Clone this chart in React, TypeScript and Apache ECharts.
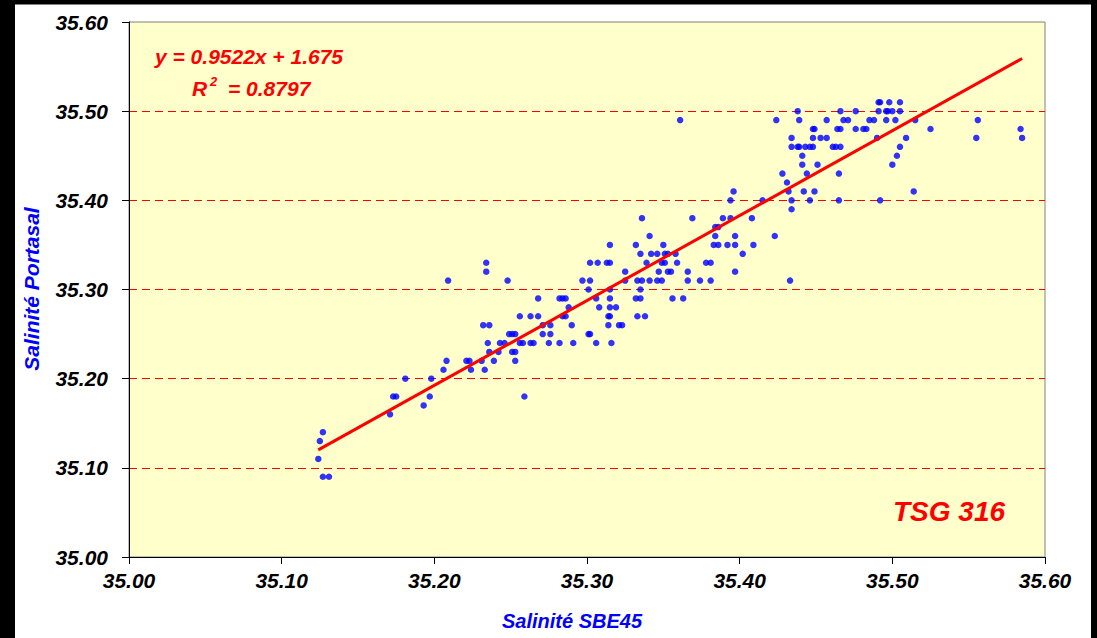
import React, { useEffect, useRef } from "react";
import * as echarts from "echarts";

// Salinité Portasal levels (y) and the SBE45 salinities (x) read at each level
const portasalLevels = [
  35.09, 35.11, 35.13, 35.14, 35.16, 35.17, 35.18, 35.2, 35.21, 35.22, 35.23, 35.24, 35.25, 35.26,
  35.27, 35.28, 35.29, 35.3, 35.31, 35.32, 35.33, 35.34, 35.35, 35.36, 35.37, 35.38, 35.39, 35.4,
  35.41, 35.42, 35.43, 35.44, 35.45, 35.46, 35.47, 35.48, 35.49, 35.5, 35.51,
];
const sbe45ByLevel = [
  [35.127, 35.131],
  [35.124],
  [35.125],
  [35.127],
  [35.171],
  [35.193],
  [35.173, 35.175, 35.197, 35.259],
  [35.181, 35.198],
  [35.206, 35.224, 35.233],
  [35.208, 35.221, 35.223, 35.231, 35.239, 35.253],
  [35.236, 35.242, 35.251, 35.253],
  [35.235, 35.243, 35.246, 35.256, 35.258, 35.263, 35.265, 35.275, 35.282, 35.291, 35.306, 35.316],
  [35.249, 35.251, 35.253, 35.271, 35.276, 35.301, 35.302],
  [35.232, 35.236, 35.271, 35.276, 35.29, 35.314, 35.321, 35.323],
  [35.256, 35.263, 35.268, 35.284, 35.286, 35.314, 35.315, 35.333, 35.338],
  [35.288, 35.308, 35.315, 35.319],
  [35.268, 35.282, 35.284, 35.286, 35.306, 35.315, 35.332, 35.335, 35.356, 35.363],
  [35.301, 35.315, 35.335],
  [35.209, 35.248, 35.297, 35.302, 35.325, 35.333, 35.336, 35.341, 35.346, 35.349, 35.366, 35.374, 35.381, 35.433],
  [35.234, 35.325, 35.347, 35.353, 35.355, 35.366, 35.397],
  [35.234, 35.302, 35.307, 35.313, 35.315, 35.339, 35.349, 35.351, 35.359, 35.378, 35.381],
  [35.335, 35.342, 35.346, 35.351, 35.353, 35.358, 35.402],
  [35.315, 35.332, 35.35, 35.383, 35.386, 35.392, 35.397, 35.409],
  [35.341, 35.384, 35.397, 35.423],
  [35.384, 35.386],
  [35.336, 35.369, 35.389, 35.394, 35.408],
  [35.434],
  [35.394, 35.415, 35.434, 35.446, 35.465, 35.492],
  [35.396, 35.432, 35.442, 35.449, 35.514],
  [35.431],
  [35.428, 35.444, 35.465],
  [35.441, 35.451, 35.5],
  [35.441, 35.503],
  [35.434, 35.438, 35.439, 35.443, 35.446, 35.448, 35.461, 35.463, 35.466, 35.505],
  [35.434, 35.448, 35.453, 35.457, 35.49, 35.509, 35.555, 35.585],
  [35.448, 35.449, 35.464, 35.466, 35.476, 35.481, 35.483, 35.525, 35.584],
  [35.361, 35.424, 35.439, 35.457, 35.468, 35.471, 35.485, 35.488, 35.496, 35.502, 35.515, 35.556],
  [35.438, 35.466, 35.476, 35.491, 35.496, 35.497, 35.5, 35.505],
  [35.491, 35.492, 35.498, 35.505],
];

// Linear trendline shown on the chart
const trendSlope = 0.9522;
const trendIntercept = 1.675;
const trendXRange = [35.124, 35.585];
const r2Value = "0.8797";

const axisMin = 35.0;
const axisMax = 35.6;
const axisStep = 0.1;

const FONT = "'Liberation Sans', Arial, sans-serif";

export default function App() {
  const ref = useRef<HTMLDivElement>(null);

  useEffect(() => {
    if (!ref.current) return;
    const chart = echarts.init(ref.current, null, { renderer: "svg" });

    const points: number[][] = [];
    portasalLevels.forEach((y, i) => {
      sbe45ByLevel[i].forEach((x) => points.push([x, y]));
    });
    const trend = trendXRange.map((x) => [x, trendSlope * x + trendIntercept]);

    const labelStyle = {
      color: "#000",
      fontFamily: FONT,
      fontSize: 21,
      fontWeight: "bold" as const,
      fontStyle: "italic" as const,
      formatter: (v: number) => v.toFixed(2),
    };

    const textFont = (size: number) => ({
      fontFamily: FONT,
      fontSize: size,
      fontWeight: "bold",
      fontStyle: "italic",
    });

    chart.setOption({
      animation: false,
      backgroundColor: "transparent",
      grid: {
        left: 129,
        right: 52,
        top: 22,
        bottom: 81,
        show: true,
        backgroundColor: "#FFFFCC",
        borderColor: "#808080",
        borderWidth: 1,
      },
      xAxis: {
        type: "value",
        min: axisMin,
        max: axisMax,
        interval: axisStep,
        axisLine: { show: true, onZero: false, lineStyle: { color: "#000", width: 1 } },
        axisTick: { show: true, inside: false, length: 7, lineStyle: { color: "#000" } },
        axisLabel: { ...labelStyle, margin: 13 },
        splitLine: { show: false },
      },
      yAxis: {
        type: "value",
        min: axisMin,
        max: axisMax,
        interval: axisStep,
        axisLine: { show: true, onZero: false, lineStyle: { color: "#000", width: 1 } },
        axisTick: { show: true, inside: false, length: 7, lineStyle: { color: "#000" } },
        axisLabel: { ...labelStyle, margin: 21 },
        splitLine: {
          show: true,
          lineStyle: {
            color: [
              "rgba(0,0,0,0)",
              "#FF0000",
              "#FF0000",
              "#FF0000",
              "#FF0000",
              "#FF0000",
              "rgba(0,0,0,0)",
            ],
            width: 1,
            type: [8, 5],
          },
        },
      },
      series: [
        {
          type: "scatter",
          data: points,
          symbol: "circle",
          symbolSize: 6.5,
          itemStyle: { color: "#0000FF" },
          z: 3,
        },
        {
          type: "line",
          data: trend,
          showSymbol: false,
          symbol: "none",
          lineStyle: { color: "#FF0000", width: 3 },
          z: 4,
        },
      ],
      graphic: [
        {
          type: "text",
          x: 31,
          y: 289,
          rotation: Math.PI / 2,
          style: {
            text: "Salinité Portasal",
            fill: "#0000FF",
            align: "center",
            verticalAlign: "middle",
            ...textFont(21),
          },
        },
        {
          type: "text",
          x: 572,
          y: 621,
          style: {
            text: "Salinité SBE45",
            fill: "#0000FF",
            align: "center",
            verticalAlign: "middle",
            ...textFont(20),
          },
        },
        {
          type: "text",
          x: 155,
          y: 56,
          style: {
            text: `y = ${trendSlope}x + ${trendIntercept}`,
            fill: "#FF0000",
            align: "left",
            verticalAlign: "middle",
            ...textFont(21),
          },
        },
        {
          type: "text",
          x: 192,
          y: 88,
          style: {
            text: "R",
            fill: "#FF0000",
            align: "left",
            verticalAlign: "middle",
            ...textFont(21),
          },
        },
        {
          type: "text",
          x: 210,
          y: 81,
          style: {
            text: "2",
            fill: "#FF0000",
            align: "left",
            verticalAlign: "middle",
            ...textFont(13),
          },
        },
        {
          type: "text",
          x: 228,
          y: 88,
          style: {
            text: `= ${r2Value}`,
            fill: "#FF0000",
            align: "left",
            verticalAlign: "middle",
            ...textFont(21),
          },
        },
        {
          type: "text",
          x: 893,
          y: 511,
          style: {
            text: "TSG 316",
            fill: "#FF0000",
            align: "left",
            verticalAlign: "middle",
            ...textFont(28),
          },
        },
      ],
    });

    return () => chart.dispose();
  }, []);

  return (
    <div
      style={{
        position: "fixed",
        left: 0,
        top: 0,
        width: 1097,
        height: 638,
        background: "#000",
        overflow: "hidden",
      }}
    >
      <div
        style={{
          position: "absolute",
          left: 15,
          top: 4,
          width: 1076,
          height: 634,
          background: "#fff",
          borderTop: "1px solid #808080",
          boxSizing: "border-box",
        }}
      />
      <div ref={ref} style={{ position: "absolute", left: 0, top: 0, width: 1097, height: 638 }} />
    </div>
  );
}
